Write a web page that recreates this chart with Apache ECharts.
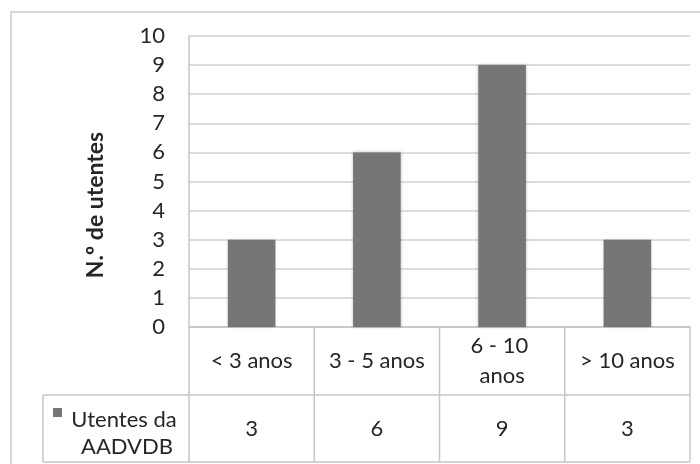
<!DOCTYPE html>
<html>
<head>
<meta charset="utf-8">
<script src="https://cdn.jsdelivr.net/npm/echarts@6/dist/echarts.min.js"></script>
<style>
  html, body { margin: 0; padding: 0; background: #fff; }
  #chart { width: 700px; height: 464px; }
</style>
</head>
<body>
<div id="chart"></div>
<script>
// Age groups (time as AADVDB users) and number of users in each
const categories = ['< 3 anos', '3 - 5 anos', '6 - 10 anos', '> 10 anos'];
const userCounts = [3, 6, 9, 3];
const seriesNameLines = ['Utentes da', 'AADVDB'];
const yTicks = { min: 0, max: 10, interval: 1 };

const FONT = 'Lato, "Open Sans", sans-serif';
const FS = 22;
const TEXT = '#262626';
const LINE = '#c6c6c6';
const BAR = '#767676';

// plot area and data table geometry
const W = 700, H = 464;
const plotLeft = 189, plotRight = 690, plotTop = 36, plotBottom = 327;
const rowSplit = 395, tableBottom = 462, legendLeft = 43;

const chart = echarts.init(document.getElementById('chart'), null, { renderer: 'canvas' });

function buildTable() {
  const els = [];
  const colW = (plotRight - plotLeft) / categories.length;
  const line = (x1, y1, x2, y2) => ({
    type: 'line', silent: true,
    shape: { x1, y1, x2, y2 },
    style: { stroke: LINE, lineWidth: 1.5 }
  });
  const label = (text, x, y, font) => ({
    type: 'text', silent: true, x, y,
    style: { text, fill: TEXT, font: font || (FS + 'px ' + FONT), align: 'center', verticalAlign: 'middle' }
  });
  // horizontal rules
  els.push(line(plotLeft, plotBottom, plotRight, plotBottom));
  els.push(line(legendLeft, rowSplit, plotRight, rowSplit));
  els.push(line(legendLeft, tableBottom, plotRight, tableBottom));
  // vertical rules
  for (let i = 0; i <= categories.length; i++) {
    const x = plotLeft + i * colW;
    els.push(line(x, plotBottom, x, tableBottom));
  }
  els.push(line(legendLeft, rowSplit, legendLeft, tableBottom));
  // legend key in the series row
  els.push({
    type: 'rect', silent: true,
    shape: { x: 53, y: 408, width: 9, height: 9 },
    style: { fill: BAR }
  });
  els.push(label(seriesNameLines[0], 124, 420));
  els.push(label(seriesNameLines[1], 127, 447));
  // values row
  userCounts.forEach((v, i) => {
    els.push(label(String(v), plotLeft + (i + 0.5) * colW, (rowSplit + tableBottom) / 2));
  });
  // vertical axis title
  els.push({
    type: 'text', silent: true,
    x: 96, y: 205, rotation: Math.PI / 2,
    style: {
      text: 'N.º de utentes', fill: TEXT, font: 'bold 23px ' + FONT,
      align: 'center', verticalAlign: 'middle'
    }
  });
  // chart area border
  els.push({
    type: 'rect', silent: true,
    shape: { x: 11, y: 12, width: W, height: H },
    style: { fill: 'none', stroke: '#d6d6d6', lineWidth: 2 }
  });
  return els;
}

chart.setOption({
  backgroundColor: '#fff',
  animation: false,
  grid: {
    left: plotLeft, right: W - plotRight, top: plotTop, bottom: H - plotBottom,
    containLabel: false
  },
  xAxis: {
    type: 'category',
    data: categories,
    axisLine: { show: true, lineStyle: { color: LINE, width: 1.5 } },
    axisTick: { show: false },
    axisLabel: {
      color: TEXT, fontFamily: FONT, fontSize: FS,
      margin: (rowSplit - plotBottom) / 2,
      verticalAlign: 'middle', lineHeight: 30, align: 'center',
      width: 102, overflow: 'break', interval: 0
    },
    splitLine: { show: false }
  },
  yAxis: {
    type: 'value',
    min: yTicks.min, max: yTicks.max, interval: yTicks.interval,
    axisLine: { show: true, lineStyle: { color: LINE, width: 1.5 } },
    axisTick: { show: false },
    axisLabel: { color: TEXT, fontFamily: FONT, fontSize: FS, margin: 24 },
    splitLine: { show: true, lineStyle: { color: '#d0d0d0', width: 1.5 } }
  },
  series: [{
    name: 'Utentes da AADVDB',
    type: 'bar',
    data: userCounts,
    barWidth: '38%',
    itemStyle: {
      color: BAR,
      shadowColor: 'rgba(0,0,0,0.25)', shadowBlur: 3
    }
  }],
  graphic: buildTable()
});
</script>
</body>
</html>
